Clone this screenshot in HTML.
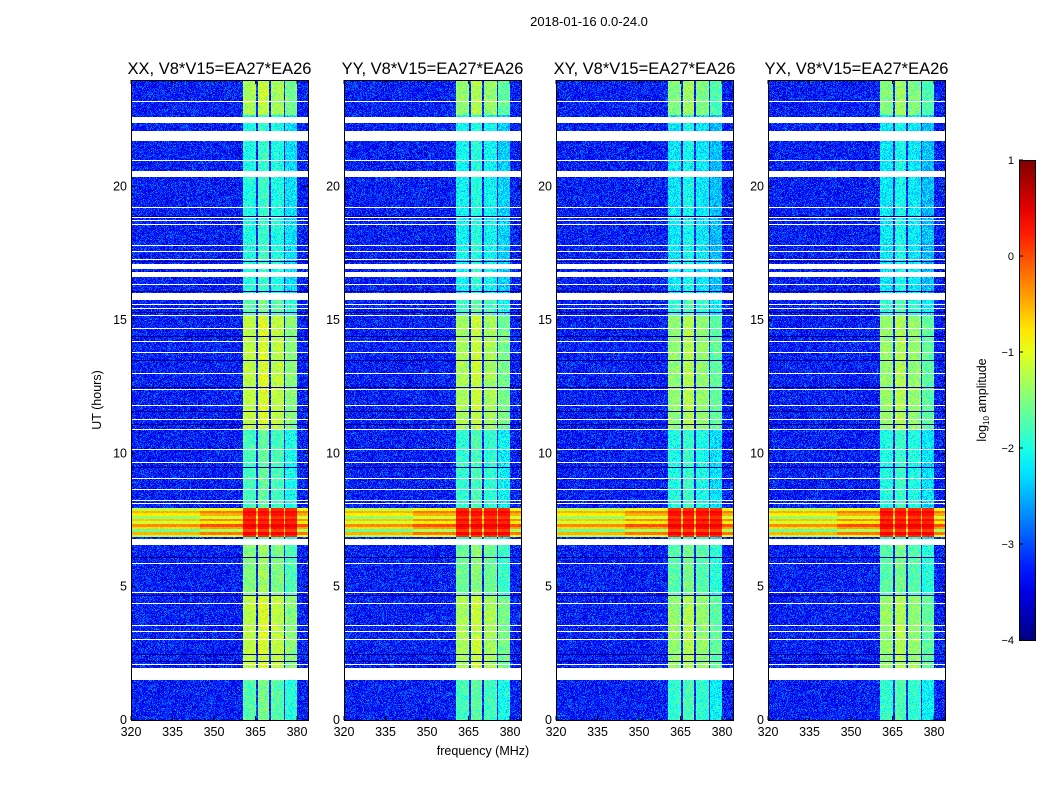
<!DOCTYPE html>
<html><head><meta charset="utf-8"><style>
body{margin:0;background:#fff;width:1050px;height:800px;position:relative;overflow:hidden;font-family:"Liberation Sans",sans-serif}
canvas{position:absolute;image-rendering:pixelated}
svg{position:absolute;left:0;top:0}
</style></head><body>
<div id="plots"></div>
<svg id="ax" width="1050" height="800"></svg>
<script>
const panelTitles = ["XX, V8*V15=EA27*EA26","YY, V8*V15=EA27*EA26","XY, V8*V15=EA27*EA26","YX, V8*V15=EA27*EA26"];
const panelLeft = [131,344,556,768];
const xTicks = [320,335,350,365,380];
const yTicks = [0,5,10,15,20];
const cbTicks = [1,0,-1,-2,-3,-4];
const flagWide = [[1.5,1.95],[6.55,6.8],[15.75,16.0],[16.6,16.8],[16.9,17.1],[20.35,20.6],[21.7,22.1],[22.4,22.6]];
const flagThin = [2.1,3.03,3.34,3.56,4.38,4.8,5.88,8.13,8.25,8.66,9.07,9.67,10.15,10.9,11.3,11.8,12.4,13.0,13.8,14.2,14.7,15.2,15.45,15.6,16.35,17.3,17.6,17.8,18.6,18.75,18.85,19.25,21.0,23.2];
const darkRows = [2.2,2.47,4.7,6.1,9.5,11.1,11.6,12.5,13.5,14.4,15.3,16.1,17.2,18.9];
const bandSegs = [[0,1.5,-1.7],[1.95,4.7,-1.2],[4.7,6.55,-1.5],[6.8,6.85,-1.8],[7.95,8.2,-1.8],[8.2,10.9,-1.8],[10.9,15.2,-1.2],[15.2,16.0,-1.7],[16.0,20.4,-2.0],[20.6,22.7,-2.0],[22.7,24,-1.3]];
const subBands = [[360.5,365.2],[365.8,370.0],[370.6,375.2],[375.8,380.0]];
const subGain = [0.0,0.15,0.0,-0.25];
const panelOffset = [0,-0.1,-0.2,-0.2];
const rfiLevels = [-0.9,-0.2,-1.3,-0.4,0.0,-0.8,-0.3,-1.1,-0.5,-0.2,-0.9];
const rfiStart = 6.85, rfiEnd = 7.95;

const NS='http://www.w3.org/2000/svg';
const W=177,H=640,TOP=80;
const fx = f => (f-320)*2.767;
const hy = h => H - h*H/24;
function jet(v){
  let t=Math.max(0,Math.min(1,(v+4)/5));
  const r=Math.max(0,Math.min(1,Math.min(4*t-1.5,-4*t+4.5)));
  const g=Math.max(0,Math.min(1,Math.min(4*t-0.5,-4*t+3.5)));
  const b=Math.max(0,Math.min(1,Math.min(4*t+0.5,-4*t+2.5)));
  return [r*255|0,g*255|0,b*255|0];
}
function hash(a,b,c){let h=(a*374761393+b*668265263+c*2147483647)|0;h=(h^(h>>>13))*1274126177|0;return ((h^(h>>>16))>>>0)/4294967296;}
function el(tag,attrs,txt){const e=document.createElementNS(NS,tag);for(const k in attrs)e.setAttribute(k,attrs[k]);if(txt!==undefined)e.textContent=txt;return e;}
const ax=document.getElementById('ax');
const plots=document.getElementById('plots');

panelLeft.forEach((L,p)=>{
  const c=document.createElement('canvas');
  c.width=W;c.height=H;c.style.left=L+'px';c.style.top=TOP+'px';
  
  
  plots.appendChild(c);
  const ctx=c.getContext('2d');const img=ctx.createImageData(W,H);
  for(let py=0;py<H;py++){
    const h=24*(1-(py+0.5)/H);
    let white=flagWide.some(s=>h>=s[0]&&h<=s[1])||flagThin.some(t=>Math.abs(hy(t)-py)<0.6);
    let dark=darkRows.some(t=>Math.abs(hy(t)-py)<0.6);
    let seg=bandSegs.find(s=>h>=s[0]&&h<s[1]);
    let rfi=h>=rfiStart&&h<rfiEnd;
    let rl=rfi?rfiLevels[Math.min(rfiLevels.length-1,Math.floor((h-rfiStart)/(rfiEnd-rfiStart)*rfiLevels.length))]:0;
    for(let px=0;px<W;px++){
      const i=(py*W+px)*4;
      if(white){img.data[i]=img.data[i+1]=img.data[i+2]=255;img.data[i+3]=255;continue;}
      const f=320+(px+0.5)/2.767;
      const n=(hash(px,py,p)+hash(py,px,p+7)-1);
      let v=-3.25+0.7*n;
      const sb=subBands.findIndex(s=>f>=s[0]&&f<=s[1]);
      if(rfi){ v=rl+(f<345?-0.3:0)+0.15*n; if(sb>=0) v=0.45+rl*0.3+0.1*n; }
      else if(sb>=0 && seg){ v=seg[2]+subGain[sb]+panelOffset[p]+0.5*n; }
      if(dark) v=-3.9;
      const col=jet(v);img.data[i]=col[0];img.data[i+1]=col[1];img.data[i+2]=col[2];img.data[i+3]=255;
    }
  }
  ctx.putImageData(img,0,0);
  const fr=el('rect',{x:L+0.5,y:TOP+0.5,width:W,height:H,fill:'none',stroke:'#000','stroke-width':1});
  ax.appendChild(fr);
  const tt=el('text',{x:L+W/2,y:74,'text-anchor':'middle','font-size':16.5},panelTitles[p]);
  ax.appendChild(tt);
  xTicks.forEach(v=>{
    const x=L+fx(v);
    const t1=el('line',{x1:x,x2:x,y1:TOP+H,y2:TOP+H-4,stroke:'#000'});ax.appendChild(t1);
    const t2=el('line',{x1:x,x2:x,y1:TOP,y2:TOP+4,stroke:'#000'});ax.appendChild(t2);
    const lb=el('text',{x:x,y:TOP+H+16,'text-anchor':'middle','font-size':12.5},v);ax.appendChild(lb);
  });
  yTicks.forEach(v=>{
    const y=TOP+hy(v);
    const t1=el('line',{x1:L,x2:L+4,y1:y,y2:y,stroke:'#000'});ax.appendChild(t1);
    const t2=el('line',{x1:L+W-4,x2:L+W,y1:y,y2:y,stroke:'#000'});ax.appendChild(t2);
    const lb=el('text',{x:L-4,y:y+4,'text-anchor':'end','font-size':12.5},v);ax.appendChild(lb);
  });
});
let t=el('text',{x:589,y:26,'text-anchor':'middle','font-size':13},'2018-01-16 0.0-24.0');ax.appendChild(t);
t=el('text',{x:483,y:755,'text-anchor':'middle','font-size':12.5},'frequency (MHz)');ax.appendChild(t);
t=el('text',{x:101,y:400,'text-anchor':'middle','font-size':12.5,transform:'rotate(-90 101 400)'},'UT (hours)');ax.appendChild(t);
const defs=el('defs',{});const gr=el('linearGradient',{id:'cbg',x1:0,y1:1,x2:0,y2:0});
for(let k=0;k<=20;k++){const c=jet(-4+5*k/20);gr.appendChild(el('stop',{offset:k/20,'stop-color':`rgb(${c[0]},${c[1]},${c[2]})`}));}
defs.appendChild(gr);ax.appendChild(defs);
t=el('rect',{x:1019.5,y:160.5,width:16,height:480,fill:'url(#cbg)',stroke:'#000'});ax.appendChild(t);
cbTicks.forEach(v=>{
  const y=160+(1-v)*96;
  const l=el('line',{x1:1019,x2:1023,y1:y,y2:y,stroke:'#000'});ax.appendChild(l);
  const lb=el('text',{x:1014,y:y+4,'text-anchor':'end','font-size':11},v<0?'\u2212'+(-v):v);ax.appendChild(lb);
});
t=el('text',{x:986,y:400,'text-anchor':'middle','font-size':12.5,transform:'rotate(-90 986 400)'});
t.innerHTML='log<tspan font-size="8" dy="3">10</tspan><tspan dy="-3"> amplitude</tspan>';
ax.appendChild(t);
</script>
</body></html>
